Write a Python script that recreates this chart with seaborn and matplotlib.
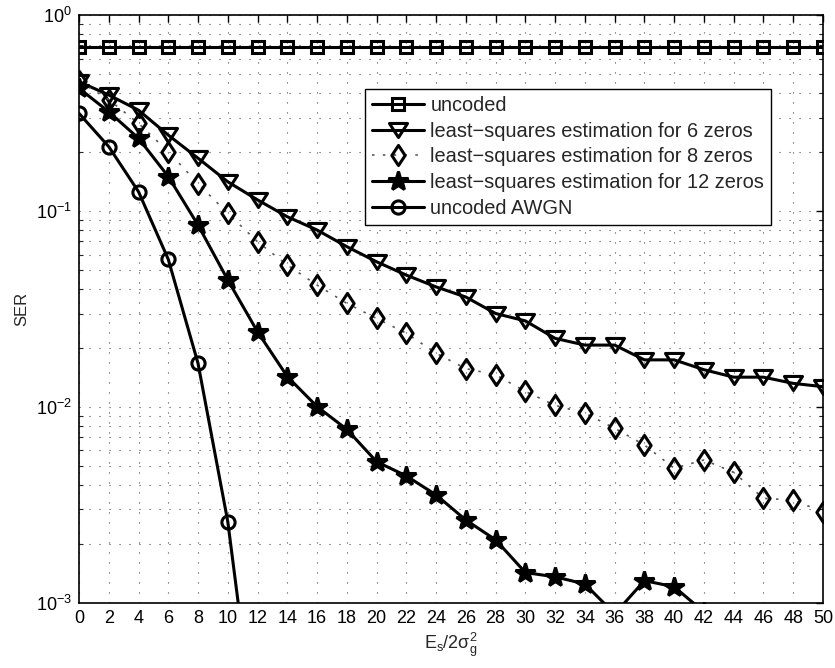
import numpy as np
import pandas as pd
import matplotlib
matplotlib.use("Agg")
import matplotlib.pyplot as plt
from matplotlib.path import Path
import seaborn as sns

# Signal-to-noise axis
snr = list(range(0, 52, 2))

# Symbol error rates
ser_uncoded = [0.69] * 26
ser_ls6 = [0.457, 0.391, 0.327, 0.244, 0.186, 0.141, 0.114, 0.0935, 0.080, 0.0658,
           0.0551, 0.0471, 0.041, 0.0364, 0.030, 0.0275, 0.0224, 0.0207, 0.0207,
           0.0174, 0.0174, 0.0155, 0.0142, 0.0142, 0.0132, 0.0127]
ser_ls8 = [0.46, 0.37, 0.28, 0.201, 0.138, 0.0973, 0.0697, 0.053, 0.0419, 0.0338,
           0.0283, 0.0238, 0.0188, 0.0157, 0.0146, 0.012, 0.0102, 0.0093, 0.00779,
           0.0064, 0.00487, 0.00537, 0.00464, 0.00342, 0.00335, 0.00292]
ser_ls12 = [0.423, 0.321, 0.235, 0.150, 0.0848, 0.0445, 0.0242, 0.0143, 0.01005,
            0.00769, 0.00526, 0.00445, 0.00356, 0.00265, 0.00210, 0.00143, 0.00136,
            0.00125, 0.00088, 0.0013, 0.00121, 0.0009,
            np.nan, np.nan, np.nan, np.nan]
ser_awgn = [0.315, 0.213, 0.1255, 0.0567, 0.0167, 0.0026, 0.00017] + [np.nan] * 19

labels = ["uncoded",
          "least\u2212squares estimation for 6 zeros",
          "least\u2212squares estimation for 8 zeros",
          "least\u2212squares estimation for 12 zeros",
          "uncoded AWGN"]

sns.set_style("white")
plt.rcParams["font.family"] = ["Liberation Sans", "DejaVu Sans"]
plt.rcParams["mathtext.fontset"] = "custom"
plt.rcParams["mathtext.rm"] = "Liberation Sans"
plt.rcParams["mathtext.it"] = "Liberation Sans:italic"
plt.rcParams["mathtext.default"] = "regular"

fig = plt.figure(figsize=(8.35, 6.68), dpi=100)
ax = fig.add_axes([0.0946, 0.0973, 0.8910, 0.8802])

closed4 = [Path.MOVETO, Path.LINETO, Path.LINETO, Path.CLOSEPOLY]
tri_down = Path([(-1, 0.78), (1, 0.78), (0, -0.78), (-1, 0.78)], closed4)
diamond = Path([(0, 1), (0.66, 0), (0, -1), (-0.66, 0), (0, 1)],
               [Path.MOVETO, Path.LINETO, Path.LINETO, Path.LINETO, Path.CLOSEPOLY])

styles = [
    dict(marker="s", ms=8.5, ls="-", mfc="none", color="k", lw=2.2),
    dict(marker=tri_down, ms=13, ls="-", mfc="none", color="k", lw=2.2),
    dict(marker=diamond, ms=14.5, ls=(0, (1.5, 5)), mfc="none", color="0.35", lw=1.2),
    dict(marker="*", ms=15, ls="-", mfc="k", color="k", lw=2.2),
    dict(marker="o", ms=9.5, ls="-", mfc="none", color="k", lw=2.2),
]
series = [ser_uncoded, ser_ls6, ser_ls8, ser_ls12, ser_awgn]

for vals, lab, st in zip(series, labels, styles):
    df = pd.DataFrame({"snr": snr, "ser": vals}).dropna()
    sns.lineplot(data=df, x="snr", y="ser", ax=ax, color=st["color"], lw=st["lw"],
                 marker=st["marker"], markersize=st["ms"],
                 markerfacecolor=st["mfc"], markeredgecolor="k",
                 markeredgewidth=2.2, linestyle=st["ls"],
                 errorbar=None, sort=False, label=lab)

ax.set_yscale("log")
ax.set_xlim(0, 50)
ax.set_ylim(1e-3, 1)
ax.set_xticks(snr)
ax.set_xticklabels([str(v) for v in snr])
ax.tick_params(axis="both", which="major", direction="in", length=5, width=1,
               labelsize=13, top=True, right=True, pad=5, colors="k")
ax.tick_params(axis="y", which="minor", direction="in", length=3, width=0.8,
               right=True, left=True)
grid_style = dict(linestyle=(0, (1, 8)), color="0.3", lw=0.8)
ax.grid(True, which="major", **grid_style)
ax.grid(True, which="minor", axis="y", **grid_style)
for sp in ax.spines.values():
    sp.set_color("k")
    sp.set_linewidth(1.2)

ax.set_xlabel(r"$E_s/2\sigma_g^2$", fontsize=13, labelpad=3)
ax.set_ylabel("SER", fontsize=12, labelpad=5)

leg = ax.legend(loc="upper left", bbox_to_anchor=(0.385, 0.874), fontsize=14.4,
                handlelength=2.6, handletextpad=0.3, labelspacing=0.33,
                borderpad=0.35, borderaxespad=0, frameon=True, fancybox=False,
                edgecolor="k", framealpha=1)
leg.get_frame().set_linewidth(1.0)

fig.savefig("out.png", dpi=100)
